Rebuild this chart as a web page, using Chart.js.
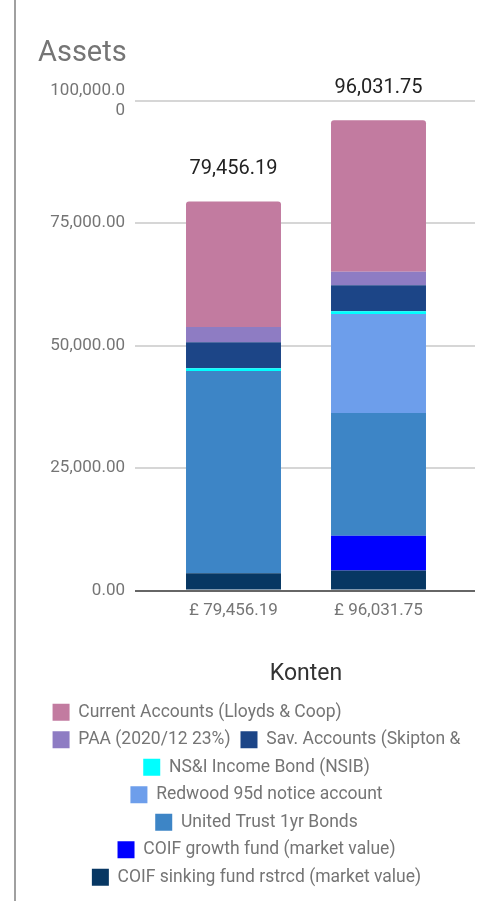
<!DOCTYPE html>
<html>
<head>
<meta charset="utf-8">
<script src="https://cdn.jsdelivr.net/npm/chart.js@4.4.1/dist/chart.umd.min.js"></script>
<style>
  html, body { margin: 0; padding: 0; background: #fff; }
  #frame { position: absolute; left: 14px; top: 0; width: 2px; height: 901px; background: #a0a0a0; }
  #wrap { position: absolute; left: 0; top: 0; width: 488px; height: 901px; }
</style>
</head>
<body>
<div id="wrap"><canvas id="assetsChart"></canvas></div>
<div id="frame"></div>
<script>
'use strict';
/* ---------------------------------------------------------------- DATA */
const categories = ['£ 79,456.19', '£ 96,031.75'];
const totalLabels = ['79,456.19', '96,031.75'];
const yTicks = [0, 25000, 50000, 75000, 100000];

// bottom of the stack first
const coifSinking = [3500, 4070];
const coifGrowth = [0, 7130];
const unitedTrust = [41300, 25050];
const redwood = [0, 20220];
const nsib = [600, 550];
const savAccounts = [5300, 5300];
const paa = [3100, 2790];
const currentAccounts = [25656.19, 30921.75];

const seriesNames = [
  'COIF sinking fund rstrcd (market value)',
  'COIF growth fund (market value)',
  'United Trust 1yr Bonds',
  'Redwood 95d notice account',
  'NS&I Income Bond (NSIB)',
  'Sav. Accounts (Skipton &',
  'PAA (2020/12 23%)',
  'Current Accounts (Lloyds & Coop)'
];
const seriesValues = [coifSinking, coifGrowth, unitedTrust, redwood, nsib, savAccounts, paa, currentAccounts];
const seriesColors = ['#073763', '#0000ff', '#3d85c6', '#6d9eeb', '#00ffff', '#1c4587', '#8e7cc3', '#c27ba0'];

/* ---------------------------------------------------------------- HELPERS */
function formatTick(value){
  if (value === 100000){
    return ['100,000.0', '0'];
  }
  return value.toLocaleString('en-US', {minimumFractionDigits: 2, maximumFractionDigits: 2});
}
//tick labels like the reference, the top one wrapped on two lines

const totalsPlugin = {
  id: 'totals',
  afterDatasetsDraw(chart){
    const ctx = chart.ctx;
    const yScale = chart.scales.y;
    const xScale = chart.scales.x;
    ctx.save();
    ctx.font = '20px Roboto';
    ctx.fillStyle = '#222222';
    ctx.textAlign = 'center';
    ctx.textBaseline = 'middle';
    categories.forEach((cat, i) => {
      let sum = 0;
      for (let s of seriesValues){
        sum += s[i];
      }
      const x = xScale.getPixelForValue(i);
      const y = yScale.getPixelForValue(sum) - 32;
      ctx.fillText(totalLabels[i], x, y);
    });
    ctx.restore();
  }
};
//writes the stack total above each bar

const legendRowPlugin = {
  id: 'legendRow',
  beforeDraw(chart){
    const lw = chart.legend && chart.legend.lineWidths;
    if (lw && lw.length > 1){
      lw[0] = lw[1];
    }
  }
};
//the first legend row starts at the same x as the second one, as in the reference

/* ---------------------------------------------------------------- CHART */
const datasets = seriesNames.map((name, i) => ({
  label: name,
  data: seriesValues[i],
  backgroundColor: seriesColors[i],
  borderWidth: 0,
  borderRadius: i === seriesNames.length - 1 ? {topLeft: 3, topRight: 3} : 0,
  borderSkipped: false,
  categoryPercentage: 1,
  barPercentage: 0.655
}));

const gridColor = (c) => (c.tick && c.tick.value === 0 ? '#666666' : '#d6d6d6');

new Chart(document.getElementById('assetsChart'), {
  type: 'bar',
  data: { labels: categories, datasets: datasets },
  options: {
    responsive: true,
    maintainAspectRatio: false,
    animation: false,
    layout: { padding: { left: 38, right: 13, top: 0, bottom: 5 } },
    plugins: {
      title: {
        display: true,
        text: 'Assets',
        align: 'start',
        color: '#757575',
        font: { family: 'Roboto', size: 29, weight: 'normal' },
        padding: { top: 36, bottom: 30 }
      },
      legend: {
        position: 'bottom',
        reverse: true,
        labels: {
          color: '#757575',
          font: { family: 'Roboto', size: 17.5 },
          boxWidth: 17,
          boxHeight: 17,
          padding: 10
        }
      },
      tooltip: { enabled: false }
    },
    scales: {
      x: {
        stacked: true,
        grid: { display: false, drawTicks: false },
        border: { display: false },
        ticks: { color: '#757575', font: { family: 'Roboto', size: 17 }, padding: 10 },
        title: {
          display: true,
          text: 'Konten',
          color: '#333333',
          font: { family: 'Roboto', size: 23 },
          padding: { top: 30, bottom: 5 }
        }
      },
      y: {
        stacked: true,
        min: 0,
        max: 100000,
        afterBuildTicks: (scale) => { scale.ticks = yTicks.map(v => ({value: v})); },
        afterFit: (scale) => { scale.width = 123; },
        grid: { color: gridColor, lineWidth: 2, tickLength: 26, drawTicks: true },
        border: { display: false },
        ticks: { color: '#757575', font: { family: 'Roboto', size: 17 }, padding: 10, callback: formatTick }
      },
      y2: {
        position: 'right',
        min: 0,
        max: 100000,
        afterBuildTicks: (scale) => { scale.ticks = yTicks.map(v => ({value: v})); },
        afterFit: (scale) => { scale.width = 24; },
        grid: { color: gridColor, lineWidth: 2, tickLength: 24, drawTicks: true, drawOnChartArea: false },
        border: { display: false },
        ticks: { display: false }
      }
    }
  },
  plugins: [totalsPlugin, legendRowPlugin]
});
</script>
</body>
</html>
